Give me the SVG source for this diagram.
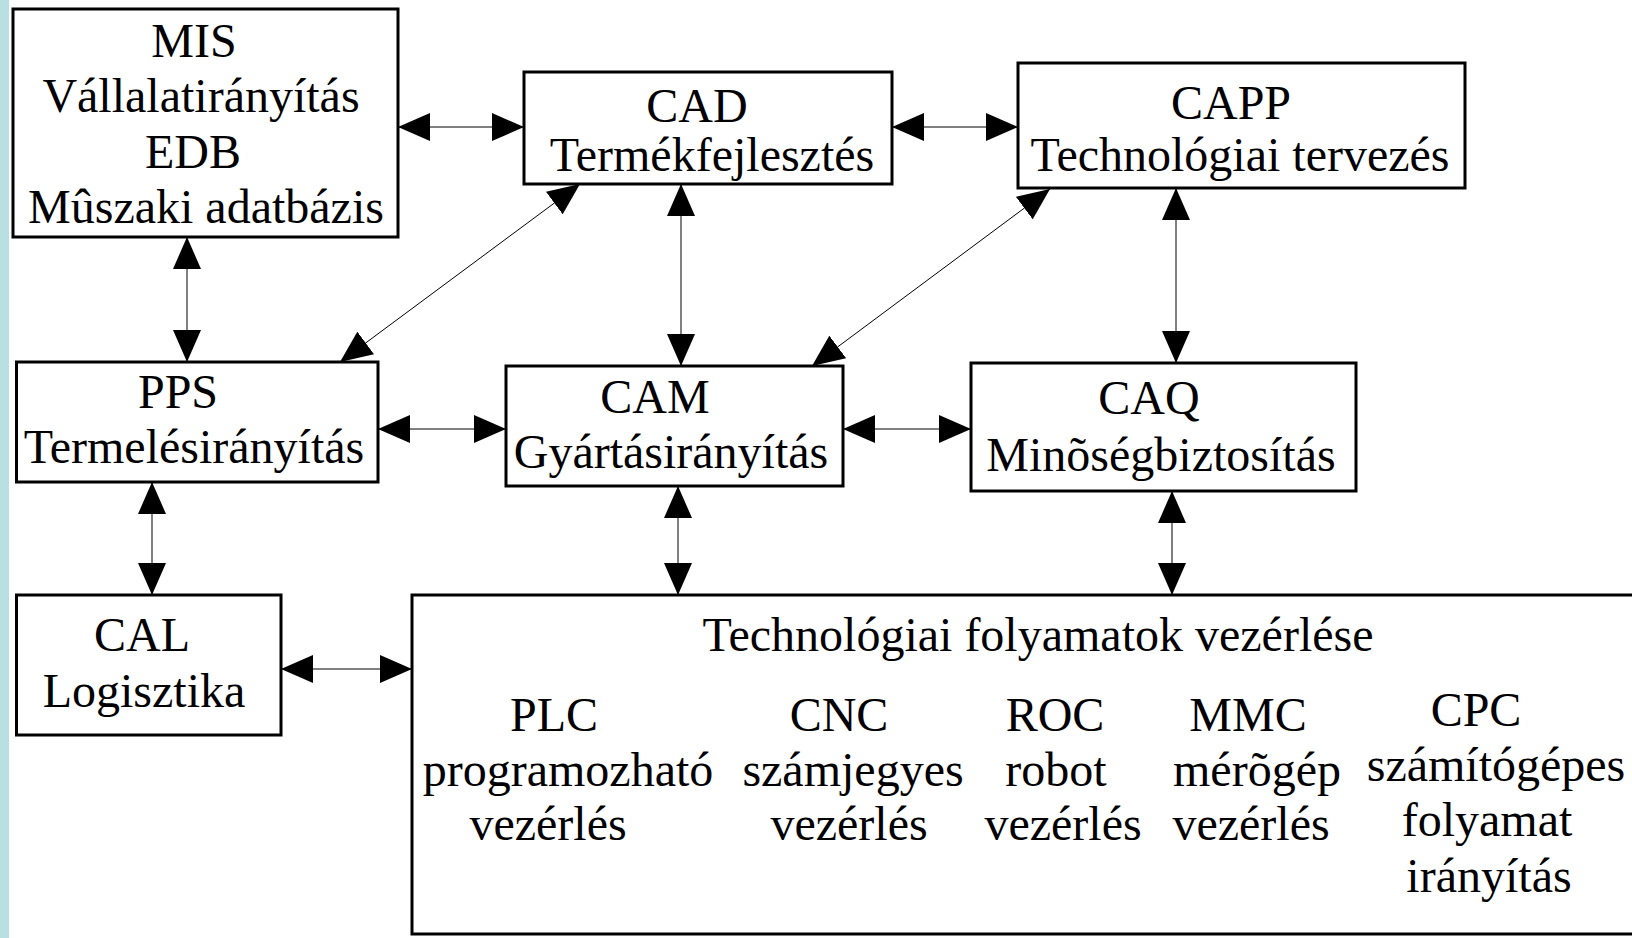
<svg xmlns="http://www.w3.org/2000/svg" width="1632" height="938" viewBox="0 0 1632 938">
  <style>
    .box { fill: #ffffff; stroke: #000000; stroke-width: 3; }
    .lbl { font-family: "Liberation Serif", "Times New Roman", serif; font-size: 48px; fill: #000000; text-anchor: middle; }
    .link { stroke: #000000; stroke-width: 1; fill: none; marker-start: url(#head); marker-end: url(#head); }
  </style>
  <defs>
    <marker id="head" viewBox="0 0 32 28" markerUnits="userSpaceOnUse" markerWidth="32" markerHeight="28" refX="32" refY="14" orient="auto-start-reverse">
      <path d="M0,0 L32,14 L0,28 Z" fill="#000000"/>
    </marker>
  </defs>

  <!-- page background and side strip -->
  <rect x="0" y="0" width="1632" height="938" fill="#ffffff"/>
  <rect x="0" y="0" width="9" height="938" fill="#b9dfe3"/>

  <!-- bidirectional connectors -->
  <g id="connectors">
    <line class="link" x1="398" y1="127" x2="524" y2="127"/>
    <line class="link" x1="892" y1="127" x2="1018" y2="127"/>
    <line class="link" x1="187" y1="237" x2="187" y2="362"/>
    <line class="link" x1="681" y1="184" x2="681" y2="366"/>
    <line class="link" x1="1176" y1="188" x2="1176" y2="363"/>
    <line class="link" x1="580" y1="184" x2="340" y2="362"/>
    <line class="link" x1="1050" y1="189" x2="812" y2="366"/>
    <line class="link" x1="378" y1="429" x2="506" y2="429"/>
    <line class="link" x1="843" y1="429" x2="971" y2="429"/>
    <line class="link" x1="152" y1="482" x2="152" y2="595"/>
    <line class="link" x1="678" y1="486" x2="678" y2="595"/>
    <line class="link" x1="1172" y1="491" x2="1172" y2="595"/>
    <line class="link" x1="281" y1="669" x2="412" y2="669"/>
  </g>

  <g id="mis">
    <rect class="box" x="13" y="9" width="385" height="228"/>
    <text class="lbl" x="194" y="57">MIS</text>
    <text class="lbl" x="201" y="112">Vállalatirányítás</text>
    <text class="lbl" x="193" y="168">EDB</text>
    <text class="lbl" x="206" y="223">Mûszaki adatbázis</text>
  </g>

  <g id="cad">
    <rect class="box" x="524" y="72" width="368" height="112"/>
    <text class="lbl" x="697" y="122">CAD</text>
    <text class="lbl" x="712" y="171">Termékfejlesztés</text>
  </g>

  <g id="capp">
    <rect class="box" x="1018" y="63" width="447" height="125"/>
    <text class="lbl" x="1231" y="119">CAPP</text>
    <text class="lbl" x="1240" y="171">Technológiai tervezés</text>
  </g>

  <g id="pps">
    <rect class="box" x="16.5" y="362" width="361.5" height="120"/>
    <text class="lbl" x="178" y="408">PPS</text>
    <text class="lbl" x="194" y="463">Termelésirányítás</text>
  </g>

  <g id="cam">
    <rect class="box" x="506" y="366" width="337" height="120"/>
    <text class="lbl" x="655" y="413">CAM</text>
    <text class="lbl" x="671" y="468">Gyártásirányítás</text>
  </g>

  <g id="caq">
    <rect class="box" x="971" y="363" width="385" height="128"/>
    <text class="lbl" x="1149" y="414">CAQ</text>
    <text class="lbl" x="1161" y="471">Minõségbiztosítás</text>
  </g>

  <g id="cal">
    <rect class="box" x="16.5" y="595" width="264.5" height="140"/>
    <text class="lbl" x="142" y="651">CAL</text>
    <text class="lbl" x="144" y="707">Logisztika</text>
  </g>

  <g id="tech">
    <rect class="box" x="412" y="595" width="1240" height="339"/>
    <text class="lbl" x="1038" y="651">Technológiai folyamatok vezérlése</text>
    <text class="lbl" x="554" y="731">PLC</text>
    <text class="lbl" x="568" y="786">programozható</text>
    <text class="lbl" x="548" y="840">vezérlés</text>
    <text class="lbl" x="839" y="731">CNC</text>
    <text class="lbl" x="853" y="786">számjegyes</text>
    <text class="lbl" x="849" y="840">vezérlés</text>
    <text class="lbl" x="1055" y="731">ROC</text>
    <text class="lbl" x="1056" y="786">robot</text>
    <text class="lbl" x="1063" y="840">vezérlés</text>
    <text class="lbl" x="1248" y="731">MMC</text>
    <text class="lbl" x="1257" y="786">mérõgép</text>
    <text class="lbl" x="1251" y="840">vezérlés</text>
    <text class="lbl" x="1476" y="726">CPC</text>
    <text class="lbl" x="1496" y="781">számítógépes</text>
    <text class="lbl" x="1487" y="836">folyamat</text>
    <text class="lbl" x="1489" y="892">irányítás</text>
  </g>
</svg>
